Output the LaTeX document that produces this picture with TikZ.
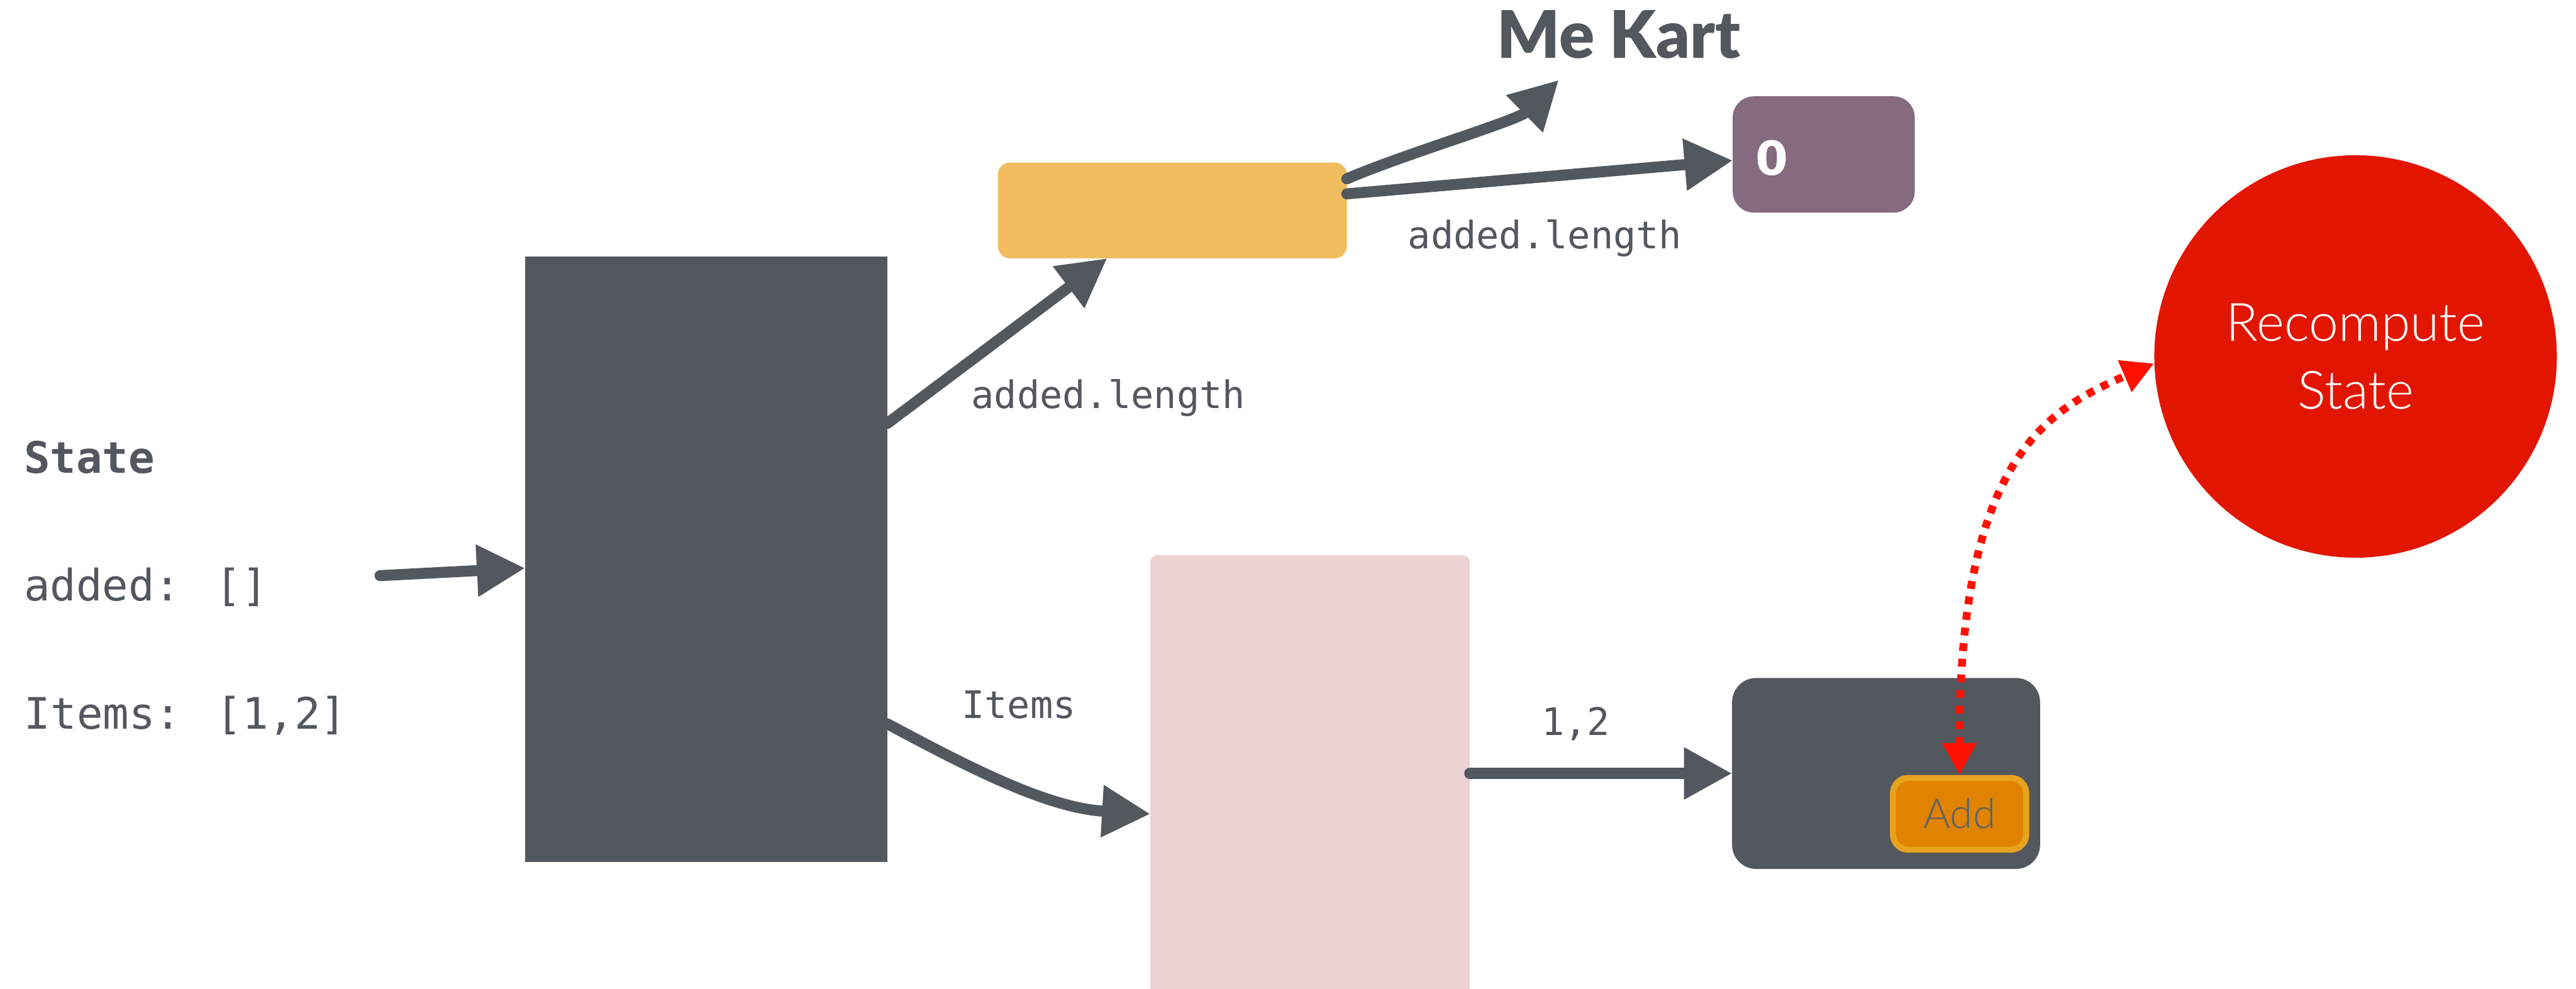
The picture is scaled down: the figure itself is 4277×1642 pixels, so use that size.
\documentclass[tikz,border=0pt]{standalone}
\usepackage{fontspec}
\setmainfont{Lato}
\newfontfamily\monofont{DejaVu Sans Mono}
\newfontfamily\digitfont{DejaVu Sans}
\newfontfamily\heavyfont{Lato Black}
\newfontfamily\lightfont{Lato Light}
\usetikzlibrary{arrows.meta,calc}
\definecolor{ink}{RGB}{83,87,94}
\definecolor{yel}{RGB}{240,190,94}
\definecolor{purp}{RGB}{134,106,128}
\definecolor{pink}{RGB}{237,210,212}
\definecolor{recred}{RGB}{226,22,0}
\definecolor{arrred}{RGB}{255,17,0}
\definecolor{addfill}{RGB}{224,131,0}
\definecolor{addline}{RGB}{232,163,30}
\definecolor{addtext}{RGB}{92,96,104}
\begin{document}
\begin{tikzpicture}[x=0.01cm,y=-0.01cm,
  box/.style={inner sep=0pt, outer sep=0pt, rectangle},
  brush/.style={draw=ink, line width=5.2pt, line cap=round, -{Triangle[length=0.8cm,width=0.82cm]}},
  lbl/.style={anchor=base west, inner sep=0pt, text=ink, font=\monofont\fontsize{17.9pt}{21pt}\selectfont},
  statetxt/.style={anchor=base west, inner sep=0pt, text=ink, font=\monofont\fontsize{20.5pt}{24pt}\selectfont},
  reddash/.style={draw=arrred, line width=3.7pt, dash pattern=on 3.7pt off 3.7pt,
    {Triangle[length=0.53cm,width=0.54cm]}-{Triangle[length=0.53cm,width=0.54cm]}}]
\useasboundingbox (0,0) rectangle (4277,1642);
% boxes
\node[box, fill=ink, minimum width=6.01cm, minimum height=10.05cm] (big) at (1172.5,928.5) {};
\node[box, fill=yel, rounded corners=0.2cm, minimum width=5.79cm, minimum height=1.59cm] (yellow) at (1946.5,349.5) {};
\node[box, fill=purp, rounded corners=0.35cm, minimum width=3.02cm, minimum height=1.93cm] (purple) at (3028,256.5) {};
\node[anchor=center, inner sep=0pt, text=white, font=\digitfont\bfseries\fontsize{22.2pt}{26pt}\selectfont] (zero) at (2942,262) {0};
\node[box, fill=pink, rounded corners=0.12cm, minimum width=5.30cm, minimum height=7.58cm] (pink) at (2175,1301) {};
\node[box, fill=ink, rounded corners=0.4cm, minimum width=5.11cm, minimum height=3.17cm] (addbox) at (3131.5,1284.5) {};
\node[rectangle, inner sep=0pt, outer sep=0.05cm, fill=addfill, draw=addline, line width=0.1cm, rounded corners=0.25cm,
  minimum width=2.21cm, minimum height=1.19cm, text=addtext, font=\lightfont\fontsize{19.5pt}{22pt}\selectfont] (addbtn) at (3253.5,1351.5) {Add};
\node[circle, fill=recred, minimum size=6.68cm, inner sep=0pt, text=white, align=center,
  font=\lightfont\fontsize{25pt}{31.9pt}\selectfont] (circ) at (3911,592) {Recompute\\State};
% titles and texts
\node[anchor=base, inner sep=0pt, text=ink, font=\heavyfont\fontsize{31pt}{34pt}\selectfont] (mekart) at (2688,97) {Me Kart};
\node[statetxt, font=\monofont\bfseries\fontsize{20.5pt}{24pt}\selectfont] (state) at (39,786) {State};
\node[statetxt] (added) at (39,998) {added: []};
\node[statetxt] (items) at (40,1211) {Items: [1,2]};
\node[lbl] (lbl1) at (1612,678) {added.length};
\node[lbl] (lbl2) at (2337,413) {added.length};
\node[lbl] (lbl3) at (1596,1193) {Items};
\node[lbl] (lbl4) at (2559,1221) {1,2};
% connectors
\coordinate (s0) at (631,956);
\coordinate (mk) at (2588,133);
\draw[brush] (s0) -- ($(big.west)+(0,15)$);
\draw[brush] ($(big.north east)!0.276!(big.south east)$) -- ($(yellow.south west)!0.313!(yellow.south east)$);
\draw[brush] ($(big.north east)!0.772!(big.south east)$) .. controls +(140,75) and +(-170,-10) .. ($(pink.north west)!0.567!(pink.south west)$);
\draw[brush] (addbox.west -| pink.east) -- (addbox.west);
\draw[brush] ($(yellow.north east)!0.17!(yellow.south east)$) .. controls +(92,-40) and +(-68,67) .. (mk);
\draw[brush] ($(yellow.north east)!0.327!(yellow.south east)$) -- ($(purple.west)+(0,10)$);
\draw[reddash] (addbtn.north) .. controls (3252,760) and (3400,680) .. (circ.182);
\end{tikzpicture}
\end{document}
